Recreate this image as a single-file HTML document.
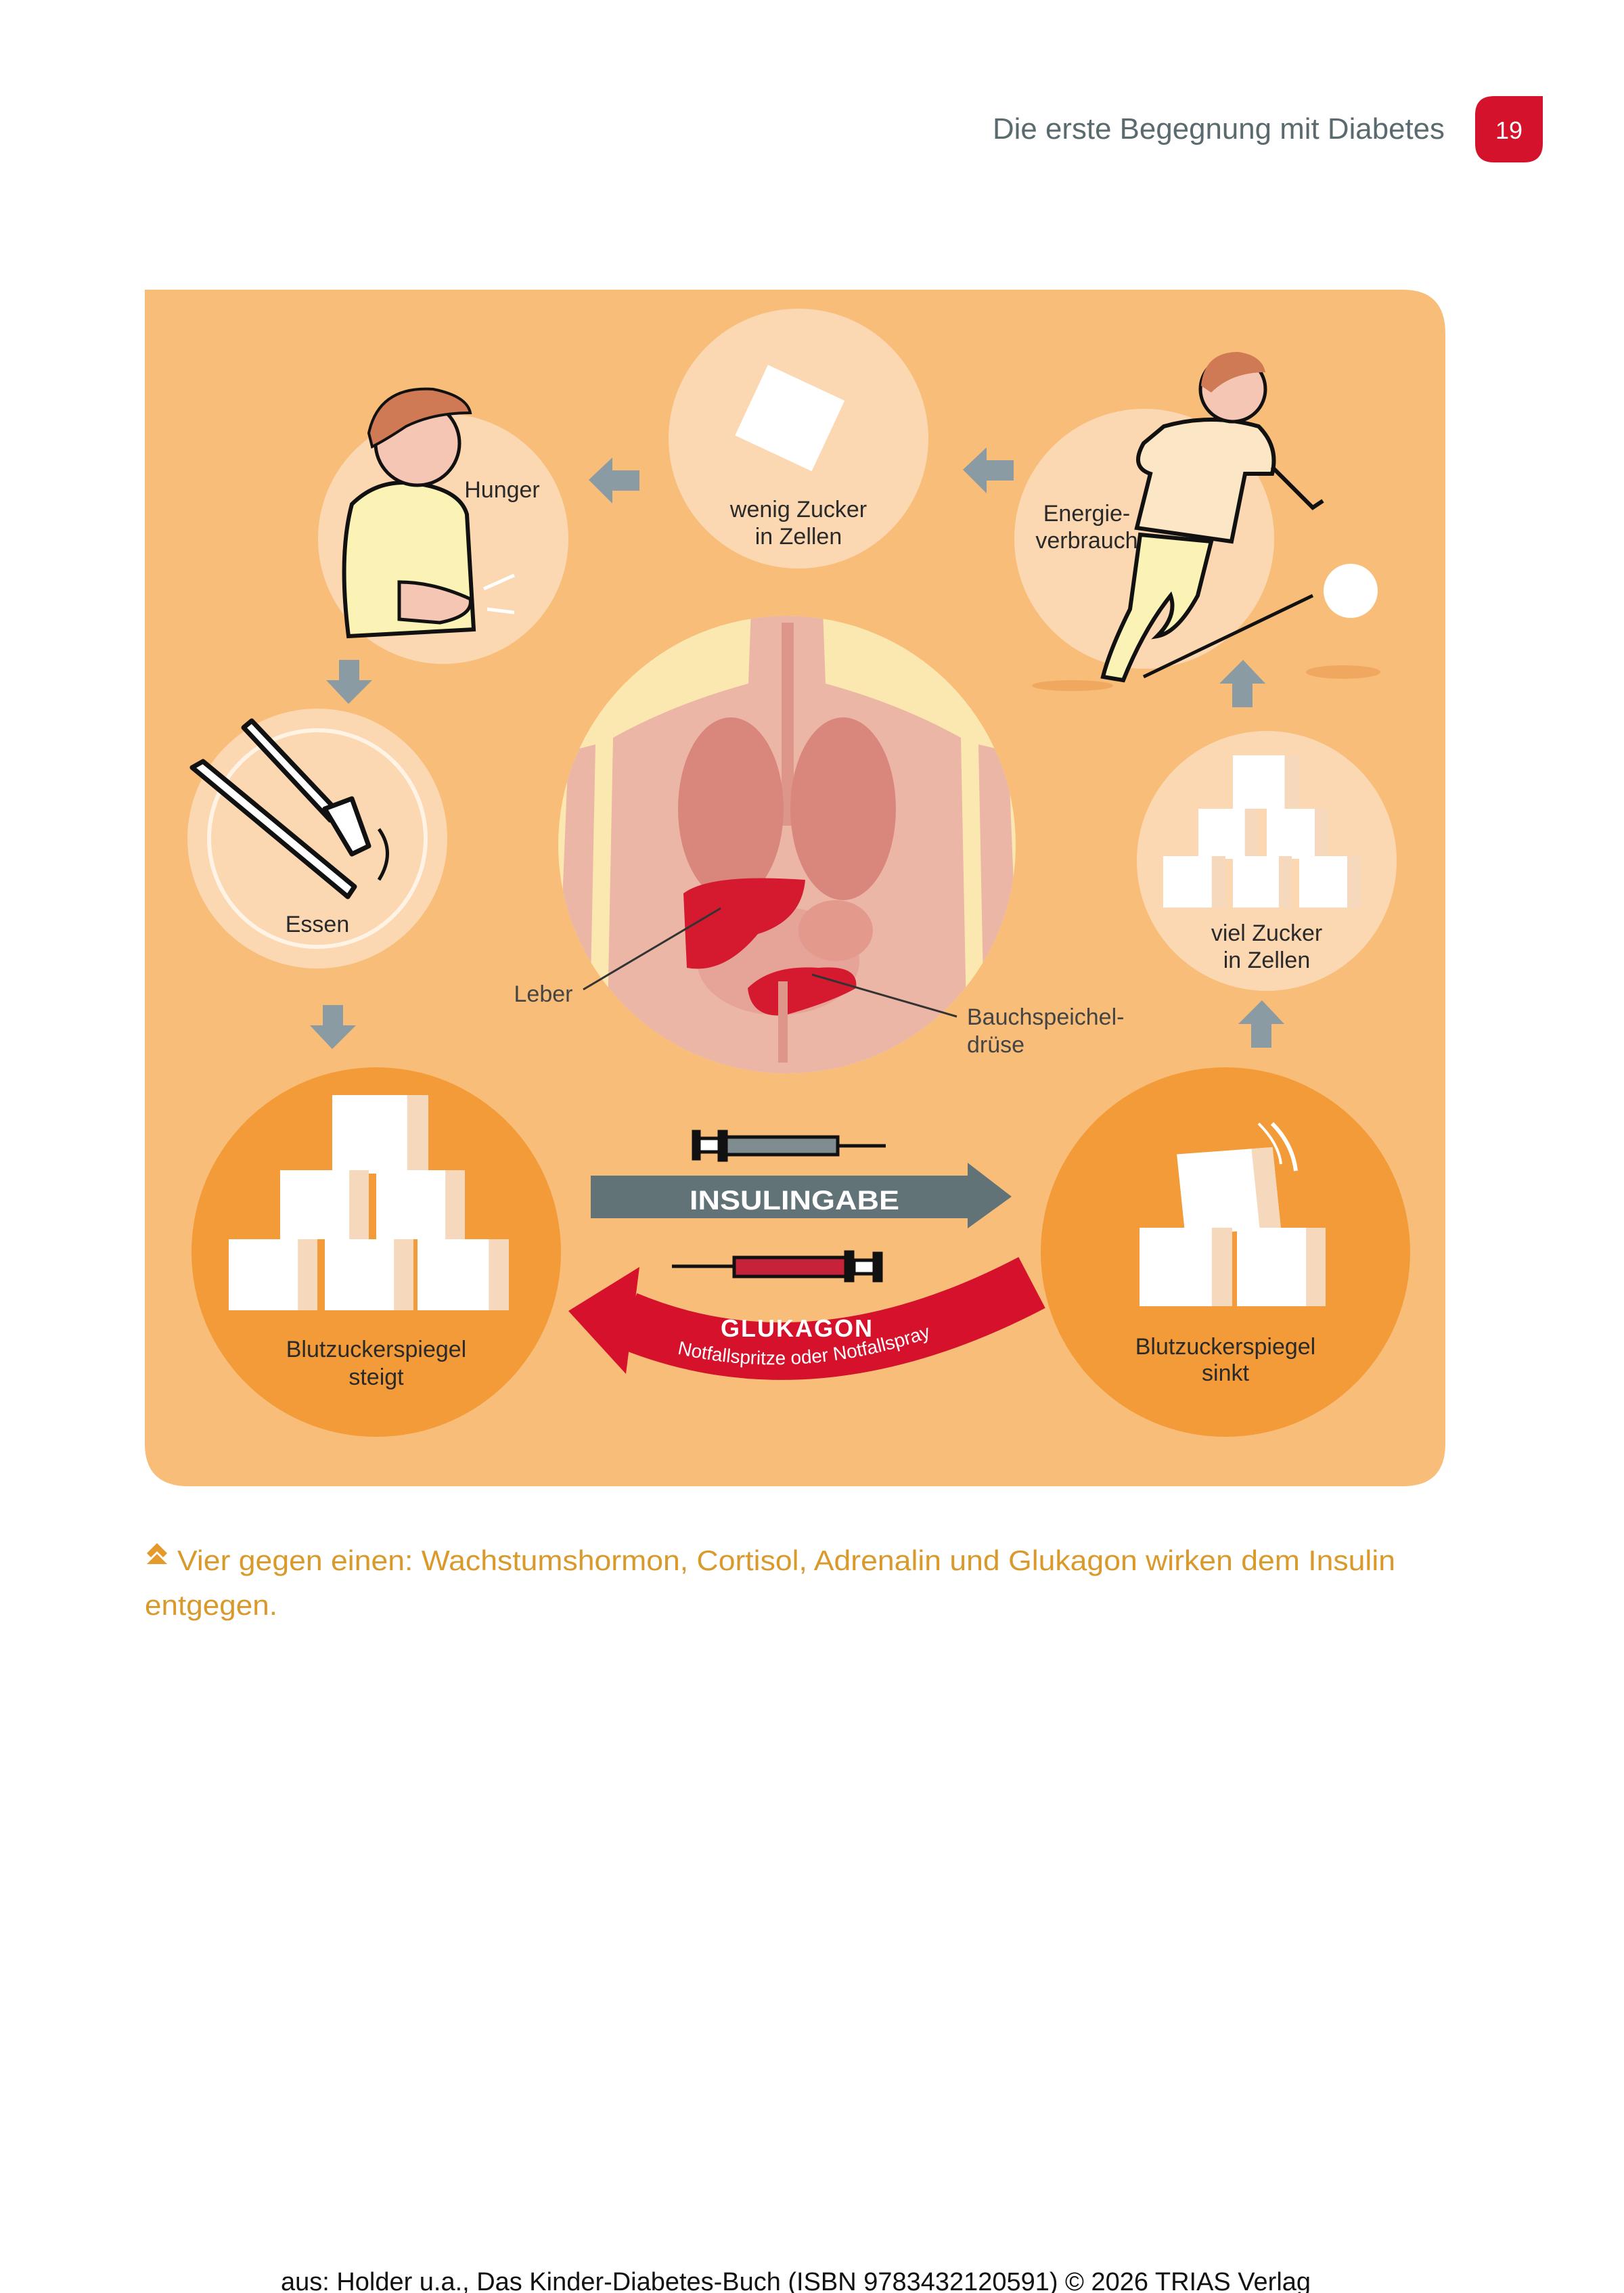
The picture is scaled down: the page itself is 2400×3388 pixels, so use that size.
<!DOCTYPE html>
<html><head><meta charset="utf-8"><style>
html,body{margin:0;padding:0;background:#fff}
svg{display:block}
.lb{font-family:"Liberation Sans",sans-serif;font-size:34px;fill:#2a2a2a;text-anchor:middle}
</style></head><body>
<svg width="2400" height="3388" viewBox="0 0 2400 3388" xmlns="http://www.w3.org/2000/svg">
<defs>
<clipPath id="bc"><circle cx="1163" cy="1248" r="338"/></clipPath>
<g id="cube"><rect x="0" y="0" width="100" height="100" fill="#fff"/><rect x="78" y="0" width="22" height="100" fill="#f6d8bd"/></g>
</defs>
<!-- header -->
<text x="2135" y="205" text-anchor="end" font-family="Liberation Sans,sans-serif" font-size="44" fill="#5a6a6e" textLength="668" lengthAdjust="spacingAndGlyphs">Die erste Begegnung mit Diabetes</text>
<path d="M2180,170 Q2180,142 2208,142 L2280,142 L2280,212 Q2280,240 2252,240 L2208,240 Q2180,240 2180,212 Z" fill="#d5122c"/>
<text x="2230" y="205" text-anchor="middle" font-family="Liberation Sans,sans-serif" font-size="36" fill="#fff">19</text>

<!-- panel -->
<path d="M214,428 L2073,428 Q2136,428 2136,493 L2136,2133 Q2136,2196 2073,2196 L279,2196 Q214,2196 214,2133 Z" fill="#f8bd78"/>

<!-- small circles -->
<circle cx="655" cy="796" r="185" fill="#fbd8b2"/>
<circle cx="1180" cy="648" r="192" fill="#fbd8b2"/>
<circle cx="1691" cy="796" r="192" fill="#fbd8b2"/>
<circle cx="469" cy="1239" r="192" fill="#fbd8b2"/>
<circle cx="469" cy="1239" r="160" fill="none" stroke="#fff3e6" stroke-width="6"/>
<circle cx="1872" cy="1272" r="192" fill="#fbd8b2"/>

<!-- big orange -->
<circle cx="556" cy="1850" r="273" fill="#f39b38"/>
<circle cx="1811" cy="1850" r="273" fill="#f39b38"/>

<!-- body -->
<circle cx="1163" cy="1248" r="338" fill="#fbe8b0"/>
<g clip-path="url(#bc)">
<path d="M1110,900 L1216,900 L1220,1010 Q1330,1040 1420,1090 L1430,1600 L896,1600 L906,1090 Q996,1040 1106,1010 Z" fill="#ecb6a6"/>
<path d="M840,1110 L880,1100 L870,1600 L820,1600 Z" fill="#ecb6a6"/>
<path d="M1446,1100 L1490,1110 L1510,1600 L1456,1600 Z" fill="#ecb6a6"/>
<rect x="1155" y="920" width="18" height="300" fill="#de968a"/>
<ellipse cx="1080" cy="1195" rx="78" ry="135" fill="#d9877d"/>
<ellipse cx="1246" cy="1195" rx="78" ry="135" fill="#d9877d"/>
<ellipse cx="1150" cy="1420" rx="120" ry="80" fill="#e5a497"/>
<ellipse cx="1235" cy="1375" rx="55" ry="45" fill="#e39a8c"/>
<path d="M1010,1320 Q1050,1290 1190,1300 Q1185,1360 1120,1380 Q1070,1440 1015,1430 Z" fill="#d5192e"/>
<path d="M1105,1460 Q1140,1425 1210,1430 Q1270,1425 1265,1460 Q1230,1480 1160,1500 Q1110,1505 1105,1460 Z" fill="#d5192e"/>
<rect x="1150" y="1450" width="14" height="120" fill="#de968a"/>
</g>
<line x1="862" y1="1462" x2="1065" y2="1342" stroke="#333" stroke-width="3"/>
<line x1="1200" y1="1440" x2="1414" y2="1502" stroke="#333" stroke-width="3"/>

<!-- grey arrows -->
<g fill="#8a9ba3">
<path d="M870,709 L905,676 L905,695 L945,695 L945,725 L905,725 L905,744 Z"/>
<path d="M1423,694 L1458,661 L1458,680 L1498,680 L1498,710 L1458,710 L1458,729 Z"/>
<path d="M515,1040 L482,1005 L501,1005 L501,975 L531,975 L531,1005 L550,1005 Z"/>
<path d="M491,1550 L458,1515 L477,1515 L477,1485 L507,1485 L507,1515 L526,1515 Z"/>
<path d="M1837,975 L1870,1010 L1851,1010 L1851,1045 L1821,1045 L1821,1010 L1802,1010 Z"/>
<path d="M1865,1478 L1898,1513 L1879,1513 L1879,1548 L1849,1548 L1849,1513 L1830,1513 Z"/>
</g>

<!-- cubes -->
<g>
<use href="#cube" transform="translate(491,1618) scale(1.42,1.16)"/>
<use href="#cube" transform="translate(414,1729) scale(1.31,1.02)"/>
<use href="#cube" transform="translate(556,1729) scale(1.31,1.02)"/>
<use href="#cube" transform="translate(338,1831) scale(1.31,1.05)"/>
<use href="#cube" transform="translate(480,1831) scale(1.31,1.05)"/>
<use href="#cube" transform="translate(617,1831) scale(1.35,1.05)"/>
<use href="#cube" transform="translate(1745,1700) scale(1.42,1.2) rotate(-5 50 50)"/>
<use href="#cube" transform="translate(1684,1814) scale(1.37,1.16)"/>
<use href="#cube" transform="translate(1828,1814) scale(1.31,1.16)"/>
<use href="#cube" transform="translate(1822,1116) scale(0.98,0.79)"/>
<use href="#cube" transform="translate(1771,1195) scale(0.88,0.74)"/>
<use href="#cube" transform="translate(1872,1195) scale(0.91,0.74)"/>
<use href="#cube" transform="translate(1719,1265) scale(0.92,0.76)"/>
<use href="#cube" transform="translate(1822,1265) scale(0.87,0.76)"/>
<use href="#cube" transform="translate(1920,1265) scale(0.91,0.76)"/>
<rect x="1105" y="560" width="125" height="115" fill="#fff" transform="rotate(25 1167 617)"/>
</g>
<path d="M1880,1660 Q1910,1690 1915,1730" stroke="#fff" stroke-width="6" fill="none"/>
<path d="M1860,1660 Q1890,1690 1893,1720" stroke="#fff" stroke-width="4" fill="none"/>

<!-- knife & fork -->
<g stroke="#111" stroke-width="7" fill="#fff" stroke-linejoin="round">
<path d="M284,1134 L300,1125 L524,1310 L514,1325 Z"/>
<path d="M360,1075 L372,1065 L500,1200 L488,1212 Z"/>
<path d="M480,1195 L520,1180 L545,1250 L520,1262 Z"/>
</g>
<path d="M560,1225 Q585,1260 560,1300" stroke="#111" stroke-width="5" fill="none"/>

<!-- hunger boy -->
<path d="M515,940 Q500,820 520,745 Q560,705 620,715 Q680,725 690,760 L700,930 Z" fill="#fbf2b6" stroke="#111" stroke-width="6"/>
<path d="M590,860 Q640,860 695,885 Q700,910 650,920 L590,915 Z" fill="#f4c6b3" stroke="#111" stroke-width="5"/>
<circle cx="617" cy="655" r="62" fill="#f4c6b3" stroke="#111" stroke-width="5"/>
<path d="M545,640 Q560,570 640,575 Q690,585 695,610 Q640,610 600,630 Q570,650 550,660 Z" fill="#cf7a55" stroke="#111" stroke-width="4"/>
<path d="M715,870 L760,850 M720,900 L760,905" stroke="#fff" stroke-width="5"/>

<!-- kicking boy -->
<circle cx="1996" cy="873" r="40" fill="#fff"/>
<line x1="1690" y1="1000" x2="1940" y2="880" stroke="#111" stroke-width="5"/>
<ellipse cx="1585" cy="1013" rx="60" ry="8" fill="#f0a860"/>
<ellipse cx="1985" cy="993" rx="55" ry="10" fill="#f0a860"/>
<path d="M1685,790 L1670,900 Q1640,960 1630,1000 L1660,1005 Q1690,930 1730,880 Q1740,910 1710,940 Q1740,935 1770,880 L1790,800 Z" fill="#fbf2b6" stroke="#111" stroke-width="6"/>
<path d="M1720,630 Q1790,610 1860,630 Q1890,660 1880,700 L1840,700 L1820,800 L1680,780 L1700,700 Q1670,690 1690,655 Z" fill="#fbe6c6" stroke="#111" stroke-width="6"/>
<path d="M1880,690 L1940,750 L1955,740" stroke="#111" stroke-width="6" fill="none"/>
<circle cx="1822" cy="575" r="48" fill="#f4c6b3" stroke="#111" stroke-width="5"/>
<path d="M1775,570 Q1780,520 1830,520 Q1865,525 1870,550 Q1820,550 1790,580 Z" fill="#cf7a55"/>

<!-- insulin arrow -->
<path d="M873,1737 L1430,1737 L1430,1718 L1495,1768 L1430,1815 L1430,1800 L873,1800 Z" fill="#617377"/>
<text x="1174" y="1787" text-anchor="middle" font-family="Liberation Sans,sans-serif" font-size="40" font-weight="bold" fill="#fff" textLength="310" lengthAdjust="spacingAndGlyphs">INSULINGABE</text>
<!-- syringes -->
<g stroke="#111" stroke-width="5">
<rect x="1025" y="1672" width="8" height="40" fill="#111"/>
<rect x="1033" y="1682" width="30" height="20" fill="#fff"/>
<rect x="1063" y="1672" width="10" height="42" fill="#111"/>
<rect x="1073" y="1680" width="165" height="26" fill="#7f8c90"/>
<line x1="1238" y1="1693" x2="1309" y2="1693"/>
<rect x="1292" y="1852" width="10" height="40" fill="#111"/>
<rect x="1262" y="1862" width="30" height="20" fill="#fff"/>
<rect x="1250" y="1850" width="10" height="42" fill="#111"/>
<rect x="1085" y="1858" width="165" height="28" fill="#c6223a"/>
<line x1="993" y1="1871" x2="1085" y2="1871"/>
</g>
<!-- glukagon -->
<path d="M1525,1895 Q1200,2065 925,1950" stroke="#d5112b" stroke-width="85" fill="none"/>
<path d="M840,1937 L945,1872 L925,2030 Z" fill="#d5112b"/>
<text x="1178" y="1975" text-anchor="middle" font-family="Liberation Sans,sans-serif" font-size="36" font-weight="bold" fill="#fff" letter-spacing="2">GLUKAGON</text>
<path id="tp" d="M945,1985 Q1180,2060 1430,1955" fill="none"/>
<text font-family="Liberation Sans,sans-serif" font-size="28" fill="#fff"><textPath href="#tp" startOffset="50%" text-anchor="middle">Notfallspritze oder Notfallspray</textPath></text>

<!-- labels -->
<text class="lb" x="742" y="735">Hunger</text>
<text class="lb" x="1180" y="764">wenig Zucker</text>
<text class="lb" x="1180" y="804">in Zellen</text>
<text class="lb" x="1606" y="770">Energie-</text>
<text class="lb" x="1606" y="810">verbrauch</text>
<text class="lb" x="469" y="1377">Essen</text>
<text class="lb" x="1872" y="1390">viel Zucker</text>
<text class="lb" x="1872" y="1430">in Zellen</text>
<text class="lb" x="803" y="1480" style="fill:#444">Leber</text>
<text class="lb" x="1429" y="1514" style="text-anchor:start;fill:#444">Bauchspeichel-</text>
<text class="lb" x="1429" y="1555" style="text-anchor:start;fill:#444">drüse</text>
<text class="lb" x="556" y="2005">Blutzuckerspiegel</text>
<text class="lb" x="556" y="2046">steigt</text>
<text class="lb" x="1811" y="2001">Blutzuckerspiegel</text>
<text class="lb" x="1811" y="2040">sinkt</text>

<!-- caption -->
<path d="M217,2295 L232,2280 L247,2295 L241,2301 L232,2292 L223,2301 Z M217,2311 L232,2296 L247,2311 Z" fill="#e39a2a"/>
<text x="262" y="2320" font-family="Liberation Sans,sans-serif" font-size="42" fill="#d99a2b" textLength="1800" lengthAdjust="spacingAndGlyphs">Vier gegen einen: Wachstumshormon, Cortisol, Adrenalin und Glukagon wirken dem Insulin</text>
<text x="214" y="2386" font-family="Liberation Sans,sans-serif" font-size="42" fill="#d99a2b" textLength="196" lengthAdjust="spacingAndGlyphs">entgegen.</text>

<!-- footer -->
<text x="1176" y="3384" text-anchor="middle" font-family="Liberation Sans,sans-serif" font-size="38" fill="#111" textLength="1522" lengthAdjust="spacingAndGlyphs">aus: Holder u.a., Das Kinder-Diabetes-Buch (ISBN 9783432120591) © 2026 TRIAS Verlag</text>
</svg>
</body></html>
